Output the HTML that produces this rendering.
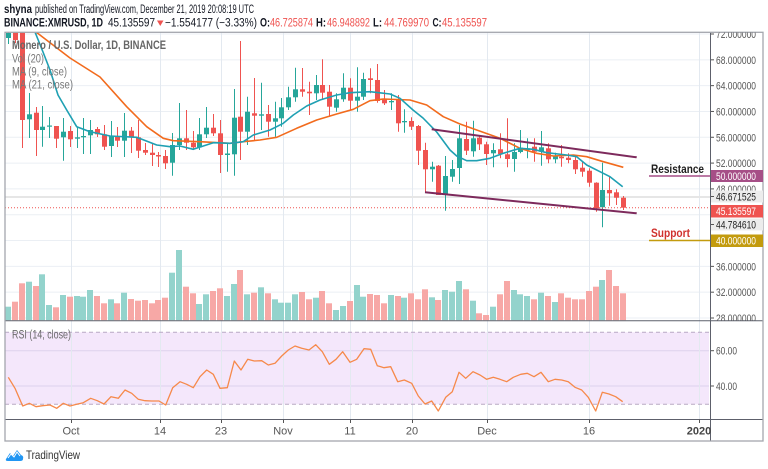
<!DOCTYPE html>
<html><head><meta charset="utf-8">
<style>
html,body{margin:0;padding:0;background:#fff;}
body{width:768px;height:469px;overflow:hidden;}
svg{display:block;font-family:"Liberation Sans",sans-serif;}
</style></head>
<body>
<svg id="s" width="768" height="469" viewBox="0 0 768 469" xmlns="http://www.w3.org/2000/svg">
<defs>
<clipPath id="pc"><rect x="5" y="32.5" width="705" height="288"/></clipPath>
<clipPath id="ac"><rect x="711" y="32.5" width="52" height="288"/></clipPath>
</defs>
<rect x="0" y="0" width="768" height="469" fill="#fff"/>
<!-- header -->
<text x="4" y="13" font-size="11.5" font-weight="bold" fill="#131722" textLength="28" lengthAdjust="spacingAndGlyphs">shyna</text>
<text x="35" y="13" font-size="11.5" fill="#131722" textLength="219" lengthAdjust="spacingAndGlyphs">published on TradingView.com, December 21, 2019 20:08:19 UTC</text>
<text x="4" y="26.5" font-size="11.5" font-weight="bold" fill="#131722" textLength="99" lengthAdjust="spacingAndGlyphs">BINANCE:XMRUSD, 1D</text>
<text x="108" y="26.5" font-size="11.5" fill="#131722" textLength="47" lengthAdjust="spacingAndGlyphs">45.135597</text>
<polygon points="157,20.5 163.5,20.5 160.25,26" fill="#ef5350"/>
<text x="165" y="26.5" font-size="11.5" fill="#131722" textLength="92" lengthAdjust="spacingAndGlyphs">−1.554177 (−3.33%)</text>
<text x="260" y="26.5" font-size="11.5" font-weight="bold" fill="#131722" textLength="10" lengthAdjust="spacingAndGlyphs">O:</text>
<text x="270" y="26.5" font-size="11.5" fill="#ef5350" textLength="43" lengthAdjust="spacingAndGlyphs">46.725874</text>
<text x="316" y="26.5" font-size="11.5" font-weight="bold" fill="#131722" textLength="10" lengthAdjust="spacingAndGlyphs">H:</text>
<text x="327" y="26.5" font-size="11.5" fill="#ef5350" textLength="43" lengthAdjust="spacingAndGlyphs">46.948892</text>
<text x="373" y="26.5" font-size="11.5" font-weight="bold" fill="#131722" textLength="9" lengthAdjust="spacingAndGlyphs">L:</text>
<text x="384" y="26.5" font-size="11.5" fill="#ef5350" textLength="45" lengthAdjust="spacingAndGlyphs">44.769970</text>
<text x="432.5" y="26.5" font-size="11.5" font-weight="bold" fill="#131722" textLength="9" lengthAdjust="spacingAndGlyphs">C:</text>
<text x="442" y="26.5" font-size="11.5" fill="#ef5350" textLength="45" lengthAdjust="spacingAndGlyphs">45.135597</text>

<g id="grid"></g>
<!-- RSI band -->
<rect x="5" y="332.3" width="704" height="72" fill="#f4e7fb"/>
<line x1="5" y1="350.7" x2="709" y2="350.7" stroke="#ddd2ec" stroke-width="1"/>
<line x1="5" y1="386" x2="709" y2="386" stroke="#ddd2ec" stroke-width="1"/>
<g id="vgrid"></g>
<line x1="5" y1="332.3" x2="709" y2="332.3" stroke="#b8a9c4" stroke-width="1" stroke-dasharray="4,3"/>
<line x1="5" y1="404.3" x2="709" y2="404.3" stroke="#b8a9c4" stroke-width="1" stroke-dasharray="4,3"/>

<line x1="5" y1="197" x2="710" y2="197" stroke="#e6e6e6" stroke-width="2"/>
<g clip-path="url(#pc)" id="cand"></g>
<line x1="5" y1="207.7" x2="710" y2="207.7" stroke="#ef5350" stroke-width="1" stroke-dasharray="1,2"/>
<g clip-path="url(#pc)">
<polyline id="ma21" fill="none" stroke="#f26b1d" stroke-width="1.6" stroke-linejoin="round" points=""/>
<polyline id="ma9" fill="none" stroke="#1fa0b3" stroke-width="1.6" stroke-linejoin="round" points=""/>
</g>
<line x1="431.7" y1="129.3" x2="636.7" y2="157.3" stroke="#7d2a5c" stroke-width="2"/>
<line x1="425" y1="192.3" x2="636.7" y2="213.3" stroke="#7d2a5c" stroke-width="2"/>
<polyline id="rsi" fill="none" stroke="#f6894a" stroke-width="1.3" stroke-linejoin="round" points=""/>

<!-- legends -->
<text x="12" y="49" font-size="11.5" font-weight="bold" fill="#666" textLength="154" lengthAdjust="spacingAndGlyphs">Monero / U.S. Dollar, 1D, BINANCE</text>
<text x="12" y="62.3" font-size="11.5" fill="#787878" textLength="32" lengthAdjust="spacingAndGlyphs">Vol (20)</text>
<text x="12" y="75.6" font-size="11.5" fill="#787878" textLength="55" lengthAdjust="spacingAndGlyphs">MA (9, close)</text>
<text x="12" y="88.6" font-size="11.5" fill="#787878" textLength="61" lengthAdjust="spacingAndGlyphs">MA (21, close)</text>
<text x="12" y="338.5" font-size="11.5" fill="#6a6a6a" textLength="59" lengthAdjust="spacingAndGlyphs">RSI (14, close)</text>

<!-- annotations -->
<text x="651" y="173" font-size="12" font-weight="bold" fill="#1e1e1e" textLength="53" lengthAdjust="spacingAndGlyphs">Resistance</text>
<line x1="649" y1="176" x2="711" y2="176" stroke="#a64f87" stroke-width="1.5"/>
<text x="651" y="237" font-size="12" font-weight="bold" fill="#d0312d" textLength="39" lengthAdjust="spacingAndGlyphs">Support</text>
<line x1="649" y1="240.5" x2="711" y2="240.5" stroke="#c39b0e" stroke-width="1.5"/>

<!-- axes lines -->
<line x1="710.5" y1="32" x2="710.5" y2="441" stroke="#5d606b" stroke-width="1"/>
<line x1="5" y1="320.7" x2="763" y2="320.7" stroke="#5d606b" stroke-width="1"/>
<line x1="5" y1="419.5" x2="763" y2="419.5" stroke="#5d606b" stroke-width="1"/>
<rect x="5" y="32.3" width="758" height="408.7" fill="none" stroke="#a3a6ad" stroke-width="1.3"/>

<g id="axis" clip-path="url(#ac)"></g>
<!-- badges -->
<rect x="711" y="170" width="52" height="12" fill="#a64f87"/>
<text x="716" y="179.8" font-size="11" fill="#fff" textLength="40" lengthAdjust="spacingAndGlyphs">50.000000</text>
<rect x="711" y="190.5" width="52" height="12" fill="#ececec"/>
<line x1="711" y1="196.5" x2="714" y2="196.5" stroke="#555"/>
<text x="716" y="200.3" font-size="11" fill="#222" textLength="40" lengthAdjust="spacingAndGlyphs">46.671525</text>
<rect x="711" y="205" width="52" height="12.5" fill="#ef5350"/>
<text x="716" y="215" font-size="11" fill="#fff" textLength="40" lengthAdjust="spacingAndGlyphs">45.135597</text>
<rect x="711" y="218.5" width="52" height="12" fill="#ececec"/>
<line x1="711" y1="224.5" x2="714" y2="224.5" stroke="#555"/>
<text x="716" y="228.3" font-size="11" fill="#222" textLength="40" lengthAdjust="spacingAndGlyphs">44.784610</text>
<rect x="711" y="234.5" width="52" height="12.5" fill="#c39b0e"/>
<text x="716" y="244.5" font-size="11" fill="#fff" textLength="40" lengthAdjust="spacingAndGlyphs">40.000000</text>

<text x="716" y="354.5" font-size="11" fill="#555" textLength="21" lengthAdjust="spacingAndGlyphs">60.00</text>
<text x="716" y="390" font-size="11" fill="#555" textLength="21" lengthAdjust="spacingAndGlyphs">40.00</text>
<line x1="711" y1="350.7" x2="714" y2="350.7" stroke="#555"/>
<line x1="711" y1="386" x2="714" y2="386" stroke="#555"/>

<g id="time" font-size="11" fill="#555" text-anchor="middle"></g>

<!-- logo -->
<path d="M6,459 L10,453 L13,456 L17,450 L21,455 Q24,456 23,459 Q23,461 20,461 L8,461 Q5,461 6,459 Z" fill="#2196f3"/>
<path d="M8,458 L11,454 L14,457 L17,452 L20,456" fill="none" stroke="#fff" stroke-width="1"/>
<text x="26" y="459" font-size="12" fill="#333" textLength="54" lengthAdjust="spacingAndGlyphs">TradingView</text>
</svg>
<script>
(function(){
var NS="http://www.w3.org/2000/svg";
function el(p,t,a,txt){var e=document.createElementNS(NS,t);for(var k in a)e.setAttribute(k,a[k]);if(txt!==undefined)e.textContent=txt;p.appendChild(e);return e;}
var g=document.getElementById('grid');
for(var k=0;k<12;k++){var y=34+k*25.818;el(g,'line',{x1:5,y1:y,x2:710,y2:y,stroke:'#ebeff4','stroke-width':1});}
var vx=[71,160,221,283,350,412,487,589,699];
var vg=document.getElementById('vgrid');
vx.forEach(function(x){el(vg,'line',{x1:x+0.5,y1:32,x2:x+0.5,y2:419,stroke:'#e3e9f0','stroke-width':1});});
var D=[
[1,33,38,32,44,306.7],[0,32,40,32,43,301.7],[0,32,120,32,148,283.3],[1,114.3,119.3,93,138,281.7],
[0,112.7,130,107,156,286],[1,126.7,130,106,146.7,274.3],[1,125.5,126.5,117,138,305],[0,126,138.7,126,148,307.3],
[1,131.7,137.3,118,160.7,295],[0,131,139.3,126,147,296.7],[1,137.3,138.7,127,148,296],[1,136,137.3,118,154,296.7],
[1,130,135.3,120,154,290],[0,129,134.3,127,137,296],[0,134.3,146.7,125,150,303.3],[1,136,146,121,157,299.3],
[0,136,140.7,127,147,303.3],[1,130.7,140.7,113,157,292.7],[0,130.7,137.3,127,153,299],[0,137.3,150.7,120,158,300.7],
[0,150,152.7,143,155,300],[0,152.7,155,143,166,303.3],[0,155,156.5,152,167,300],[0,156,163.3,150,169,297.7],
[1,145,162.7,133,175.7,272.7],[1,138.3,145,103,150,250],[0,138.3,142.7,110,150,286.7],[0,142.7,147.3,131,150,293.3],
[1,134.3,147.3,118,150,304],[1,127.7,134.3,107,138,294.3],[0,127.7,133.3,114,136,291],[0,133.3,155,120,173,288.3],
[1,153.5,155,143,171.7,296],[1,117.7,154.3,89,175.7,284],[0,116.7,131.7,41,160,270],[1,111.7,131.7,96.7,145,294.3],
[0,113.3,115.7,78,140,292.7],[1,114.3,115.7,82.7,130,287.3],[0,114,121.7,105,136.7,293.3],[1,118.3,121.7,101.7,136.7,299.3],
[1,107.3,118.3,98,126.7,302.7],[1,97.3,107.3,86.7,110,302.7],[1,89.3,97.3,67.7,101.7,294.3],[0,89.3,91.7,68,96.7,292],
[0,91.7,93.3,81.7,115,299.3],[1,85,93.3,75,100,297.7],[0,85,92.7,59.3,100,291],[0,91.7,106.7,85,116,303.3],
[1,99.3,107.7,93.3,111.7,310],[1,87.7,99.3,73.3,101.7,306],[0,87.7,100.7,78.3,110,301],[1,96.7,100.7,67.3,111.7,285],
[1,79,96.7,72.7,100,296.7],[0,78.3,80,68.3,93.3,294],[0,80,101,64,102.7,295],[0,99.3,103.3,90,105,303.3],
[1,101,102.3,93.3,110,295],[0,100,123.3,95,131.7,296],[1,121,122.3,109.3,132.7,297.7],[0,121,126.7,117.3,130,293.3],
[0,126,150.7,125,165,299.3],[0,150,169.3,142.7,192.7,289.3],[1,166.7,169.3,161.7,181.7,297.3],[0,165.7,195,165,195,300],
[1,176,194,156,210.7,290],[1,169,176.7,160,181.7,291.7],[1,138.3,168,125,184,281],[0,139,150.7,121.7,155,289.3],
[1,138.3,151.3,120.7,156.7,300.7],[0,137.7,144.3,136,150,313.3],[0,144.3,154,141.7,165,315],[1,150,153.3,143.3,167.3,306.7],
[0,149.3,154,133.3,158.3,294.3],[0,154.3,159,118.3,167.3,281],[1,152,159,143.3,171.7,290],[1,147.7,152,130,153.3,294.3],
[1,148.3,150,138.3,158.3,296],[0,146.7,151.7,138.3,161.7,299.3],[1,147.3,151.7,131,165.7,292.7],[0,148.3,159.3,143.3,163.3,296],
[1,156,159.3,152.7,163.3,302],[0,156.7,158.3,145,166.7,293.3],[0,157.7,160,153.3,163.3,297.7],[0,160,169.3,156.7,174,299.3],
[0,167.7,171.7,161.7,176.7,299.3],[0,170.7,182.7,168.3,186.7,291],[0,182.7,208.3,182.3,211.7,286.7],[1,190,207.3,162.7,227.3,280],
[0,190,193.3,176.7,205.7,270],[0,192.3,197.7,189.3,205,286],[0,197.7,207.7,196,210,293.3]
];
var cg=document.getElementById('cand');
var n=D.length;
D.forEach(function(d,k){
  var x=622.9-6.83*(n-1-k);
  var xr=Math.round(x);
  var col=d[0]?'#26a69a':'#ef5350', vc=d[0]?'#93d3cc':'#f7a8a6';
  el(cg,'rect',{x:xr-3,y:d[5],width:6,height:320.2-d[5],fill:vc});
});
D.forEach(function(d,k){
  var x=622.9-6.83*(n-1-k);
  var xr=Math.round(x);
  var col=d[0]?'#26a69a':'#ef5350';
  el(cg,'line',{x1:xr+0.5,y1:d[3],x2:xr+0.5,y2:d[4],stroke:col,'stroke-width':1});
  el(cg,'rect',{x:xr-2,y:d[1],width:5,height:Math.max(d[2]-d[1],1.2),fill:col});
});
document.getElementById('ma9').setAttribute('points',"35,32 43,52 50,70 58,95 66.7,110 76.7,126.7 90,131.7 110,136 136.7,137.3 156.7,145 170,146.7 180,146 193.3,149.3 203.3,146 213.3,142.7 230,143.3 243.3,141.7 253.3,135 270,130 283.3,123.3 293.3,115 306.7,106 320,100 336.7,95 350,92.7 370,91.7 390,94 400,98.3 413,110 423,118 436.7,132 450,150 456.7,156 466.7,160.7 476.7,160.7 490,158.3 503.3,153.3 520,148.3 533.3,149.3 546.7,152.7 566.7,155 576.7,156.7 586.7,165 600,171.7 610,176.7 622.7,186.7");
document.getElementById('ma21').setAttribute('points',"36,32 70,58 100,77 126.7,106.7 146.7,126.7 163.3,138.3 173.3,140.7 200,141.7 230,143.3 243.3,141.7 260,140 276.7,137.3 296.7,128.3 316.7,120 336.7,114 353.3,109.3 370,100.7 383.3,99 410,100 426.7,105 443.3,116.7 460,124 476.7,130 500,138.3 520,148.3 536.7,153.3 553.3,156 573.3,155 586.7,156.7 603.3,161.7 623.3,167.3");
document.getElementById('rsi').setAttribute('points',"8.3,377.3 15,388.3 22.7,406 29.3,403.3 36,406.7 42.7,405.7 50,405 56.7,408.3 63.3,403.3 70,406 76.7,404.3 83.3,402.7 90.7,398.3 97.3,400.7 104,404 111,396.7 118.3,398.3 125,390 131.7,393.3 138.3,399.3 145,400.7 151.7,401 159,401 165.7,405 172.7,387.7 180,381.7 186.7,384.3 193.3,387.7 200,376.7 206.7,370 213.3,374.3 220,388.3 227.3,387.7 234.3,361 241,370 247.7,359.3 254.3,361 261.7,360.7 268.3,365 275,363.3 281.7,356 288.3,350 295,346 301.7,348.3 309,350 315.7,344.7 322.3,351.7 329.3,364.3 336,359.3 342.7,351.7 350,362.3 356.7,359.3 364,348.7 370.7,349.3 377.3,365.7 384,367.7 390.7,366.7 397.7,381.7 404.3,380 411.7,383.3 418.3,396 425,404 431.7,401 438.3,411 445.7,397.3 452.3,391.7 459,372.3 465.7,378.3 473,371.7 480,375 486.7,379.3 493.3,377.3 500,379.3 506.7,381.7 513.3,377.3 520.7,374.3 527.3,373.3 534,376.7 541,372.3 548.3,381.7 555,379.3 561.7,380 568.3,381.7 575,387.3 581.7,390 588.3,397.3 595.7,411 602.3,392.3 609,394 615.7,396.7 622.7,401.7");
var ax=document.getElementById('axis');
var labs=['72.000000','68.000000','64.000000','60.000000','56.000000','52.000000','48.000000','44.000000','40.000000','36.000000','32.000000','28.000000'];
labs.forEach(function(l,k){
  if(k==7||k==8)return;
  var y=34+k*25.818;
  el(ax,'line',{x1:711,y1:y,x2:714,y2:y,stroke:'#555','stroke-width':1});
  el(ax,'text',{x:716,y:y+4,'font-size':11,fill:'#555',textLength:40,lengthAdjust:'spacingAndGlyphs'},l);
});
var tg=document.getElementById('time');
var tl=[[71,'Oct'],[160,'14'],[221,'23'],[283,'Nov'],[350,'11'],[412,'20'],[487,'Dec'],[589,'16'],[699,'2020']];
tl.forEach(function(t){
  el(tg,'line',{x1:t[0]+0.5,y1:419.5,x2:t[0]+0.5,y2:423,stroke:'#555','stroke-width':1});
  var a={x:t[0],y:434.3};
  if(t[1]=='2020'){a['font-weight']='bold';a.fill='#444';}
  el(tg,'text',a,t[1]);
});
})();
</script>
</body></html>
